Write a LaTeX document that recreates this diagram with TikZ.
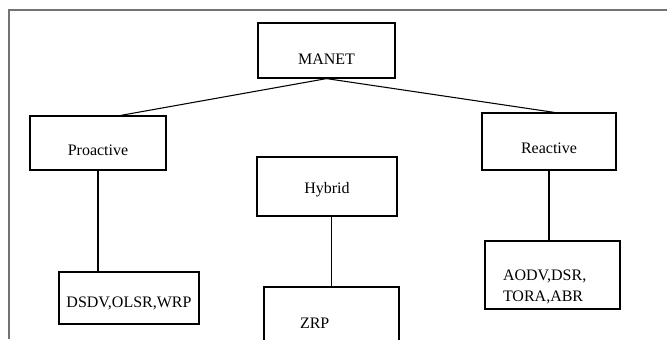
\documentclass[tikz,border=0pt]{standalone}
\usepackage{fontspec}
\setmainfont{Liberation Serif}

\begin{document}
\begin{tikzpicture}[
    x=0.75pt, y=-0.75pt,
    every node/.style={font=\fontsize{12pt}{15.75pt}\selectfont},
    box/.style={draw, line width=0.9pt, inner sep=0pt},
    drop/.style={text height=#1, text depth=0pt},
    link/.style={line width=0.8pt},
    frame/.style={draw=black!55, line width=1.1pt}
]
    \useasboundingbox (0,0) rectangle (667,339);
    \draw[frame] (9,339) -- (9,10) -- (667,10);

    \node[box, minimum width=102.75pt, minimum height=41.25pt, drop=20.7pt] (manet) at (326.5,50.5) {MANET};
    \node[box, minimum width=102pt, minimum height=40.5pt, drop=18.4pt] (proactive) at (98,143) {Proactive};
    \node[box, minimum width=105pt, minimum height=44.25pt, drop=10.2pt] (hybrid) at (327,186.5) {Hybrid};
    \node[box, minimum width=100.5pt, minimum height=42.75pt, drop=17.7pt] (reactive) at (549,141.5) {Reactive};

    \node[box, minimum width=105pt, minimum height=39pt, drop=13.9pt] (proto) at (129,298) {DSDV,OLSR,WRP};
    \node[box, text width=47.25pt, inner xsep=27pt, align=left, minimum height=47.25pt, drop=14.7pt] (zrp) at (331.5,318.5) {ZRP};
    \node[box, text width=74.25pt, inner xsep=13.5pt, align=left, minimum height=51pt, text height=26pt] (reproto) at (552.5,275) {AODV,DSR,\\TORA,ABR};

    \draw[link] (manet.south) -- ([xshift=17pt]proactive.north);
    \draw[link] (manet.south) -- ([xshift=4pt]reactive.north);
    \draw[link] (proactive.south) -- (proactive.south |- proto.north);
    \draw[link] (zrp.north |- hybrid.south) -- (zrp.north);
    \draw[link] (reactive.south) -- (reactive.south |- reproto.north);
\end{tikzpicture}
\end{document}
